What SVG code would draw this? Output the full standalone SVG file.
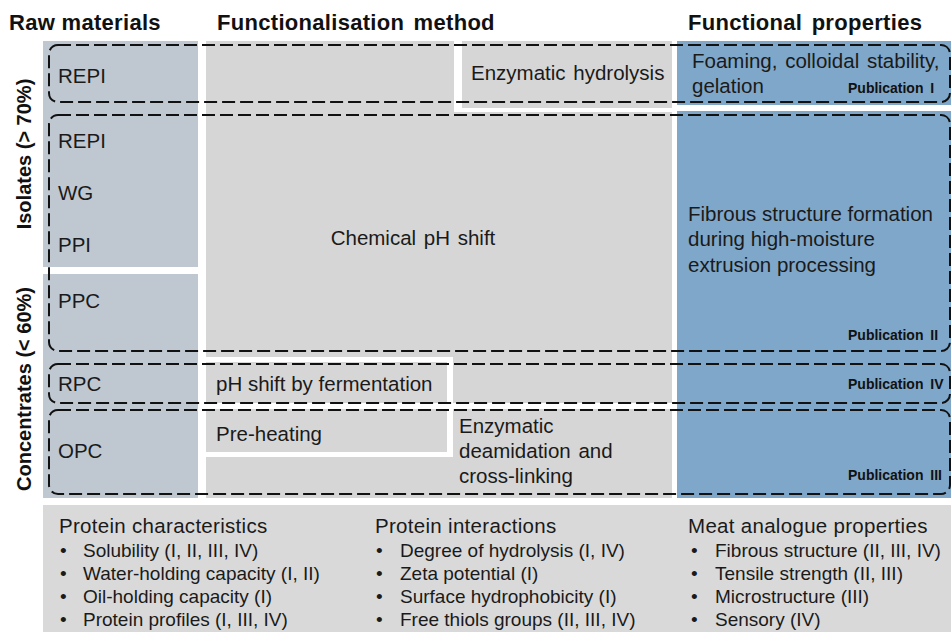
<svg xmlns="http://www.w3.org/2000/svg" width="951" height="632" viewBox="0 0 951 632">
<style>
.hd{font-family:"Liberation Sans",Arial,sans-serif;font-weight:bold;font-size:22px;letter-spacing:0.3px;fill:#111}
.vl{font-family:"Liberation Sans",Arial,sans-serif;font-weight:bold;font-size:20px;fill:#111}
.t{font-family:"Liberation Sans",Arial,sans-serif;font-size:20.5px;fill:#1a1a1a}
.pub{font-family:"Liberation Sans",Arial,sans-serif;font-weight:bold;font-size:14px;fill:#111}
.bh{font-family:"Liberation Sans",Arial,sans-serif;font-size:20.5px;letter-spacing:0.3px;fill:#1a1a1a}
.bi{font-family:"Liberation Sans",Arial,sans-serif;font-size:19px;fill:#1a1a1a}
.raw{fill:#BFC7D0}
.mid{fill:#D6D6D6}
.blue{fill:#7FA7C9}
.gap{fill:#FFFFFF}
.dash{fill:none;stroke:#111;stroke-width:2;stroke-dasharray:13 5}
</style>
<rect width="951" height="632" fill="#FFFFFF"/>
<g id="headers">
<text class="hd" x="9" y="30">Raw materials</text>
<text class="hd" x="217" y="30" word-spacing="3">Functionalisation method</text>
<text class="hd" x="688" y="30" word-spacing="3">Functional properties</text>
</g>
<g id="group-labels">
<text class="vl" transform="translate(31,154) rotate(-90)" text-anchor="middle">Isolates (&gt; 70%)</text>
<text class="vl" transform="translate(31,389) rotate(-90)" text-anchor="middle">Concentrates (&lt; 60%)</text>
</g>
<g id="raw-materials">
<rect class="raw" x="43" y="41" width="155" height="226"/>
<rect class="raw" x="43" y="274" width="155" height="224"/>
<text class="t" x="58" y="83">REPI</text>
<text class="t" x="58" y="148">REPI</text>
<text class="t" x="58" y="200">WG</text>
<text class="t" x="58" y="252">PPI</text>
<text class="t" x="58" y="308">PPC</text>
<text class="t" x="58" y="391">RPC</text>
<text class="t" x="58" y="458">OPC</text>
</g>
<g id="functionalisation">
<rect class="mid" x="206" y="41" width="466" height="457"/>
<rect class="gap" x="454" y="41" width="8" height="71"/>
<rect class="gap" x="454" y="108" width="218" height="4"/>
<rect class="gap" x="206" y="357" width="247" height="5"/>
<rect class="gap" x="447" y="357" width="6" height="46"/>
<rect class="gap" x="206" y="403" width="466" height="6"/>
<rect class="gap" x="447" y="409" width="6" height="48"/>
<rect class="gap" x="206" y="452" width="247" height="5"/>
<text class="t" x="471" y="80" word-spacing="2">Enzymatic hydrolysis</text>
<text class="t" x="413" y="245" text-anchor="middle" word-spacing="2">Chemical pH shift</text>
<text class="t" x="216" y="391">pH shift by fermentation</text>
<text class="t" x="216" y="441">Pre-heating</text>
<text class="t" x="459" y="433">Enzymatic</text>
<text class="t" x="459" y="458" word-spacing="2">deamidation and</text>
<text class="t" x="459" y="483">cross-linking</text>
</g>
<g id="functional-properties">
<rect class="blue" x="677" y="41" width="274" height="64"/>
<rect class="blue" x="677" y="111" width="274" height="387"/>
<text class="t" x="692" y="68" word-spacing="2">Foaming, colloidal stability,</text>
<text class="t" x="692" y="93">gelation</text>
<text class="t" x="688" y="221">Fibrous structure formation</text>
<text class="t" x="688" y="246">during high-moisture</text>
<text class="t" x="688" y="272">extrusion processing</text>
</g>
<g id="publications">
<g id="pub-I"><rect class="dash" x="49" y="45" width="901" height="57" rx="9"/><text class="pub" x="848" y="93" word-spacing="3">Publication I</text></g>
<g id="pub-II"><rect class="dash" x="49" y="115" width="901" height="236" rx="9"/><text class="pub" x="848" y="340" word-spacing="3">Publication II</text></g>
<g id="pub-IV"><rect class="dash" x="49" y="364" width="901" height="39" rx="9"/><text class="pub" x="848" y="389" word-spacing="3">Publication IV</text></g>
<g id="pub-III"><rect class="dash" x="49" y="410" width="901" height="84" rx="9"/><text class="pub" x="848" y="480" word-spacing="3">Publication III</text></g>
</g>
<g id="analyses">
<rect x="43" y="505" width="908" height="127" fill="#D9D9D9"/>
<text class="bh" x="59" y="533">Protein characteristics</text>
<text class="bi" x="60" y="557">•</text><text class="bi" x="83" y="557">Solubility (I, II, III, IV)</text>
<text class="bi" x="60" y="580">•</text><text class="bi" x="83" y="580">Water-holding capacity (I, II)</text>
<text class="bi" x="60" y="603">•</text><text class="bi" x="83" y="603">Oil-holding capacity (I)</text>
<text class="bi" x="60" y="626">•</text><text class="bi" x="83" y="626">Protein profiles (I, III, IV)</text>
<text class="bh" x="375" y="533">Protein interactions</text>
<text class="bi" x="376" y="557">•</text><text class="bi" x="400" y="557">Degree of hydrolysis (I, IV)</text>
<text class="bi" x="376" y="580">•</text><text class="bi" x="400" y="580">Zeta potential (I)</text>
<text class="bi" x="376" y="603">•</text><text class="bi" x="400" y="603">Surface hydrophobicity (I)</text>
<text class="bi" x="376" y="626">•</text><text class="bi" x="400" y="626">Free thiols groups (II, III, IV)</text>
<text class="bh" x="688" y="533">Meat analogue properties</text>
<text class="bi" x="691" y="557">•</text><text class="bi" x="715" y="557">Fibrous structure (II, III, IV)</text>
<text class="bi" x="691" y="580">•</text><text class="bi" x="715" y="580">Tensile strength (II, III)</text>
<text class="bi" x="691" y="603">•</text><text class="bi" x="715" y="603">Microstructure (III)</text>
<text class="bi" x="691" y="626">•</text><text class="bi" x="715" y="626">Sensory (IV)</text>
</g>
</svg>
